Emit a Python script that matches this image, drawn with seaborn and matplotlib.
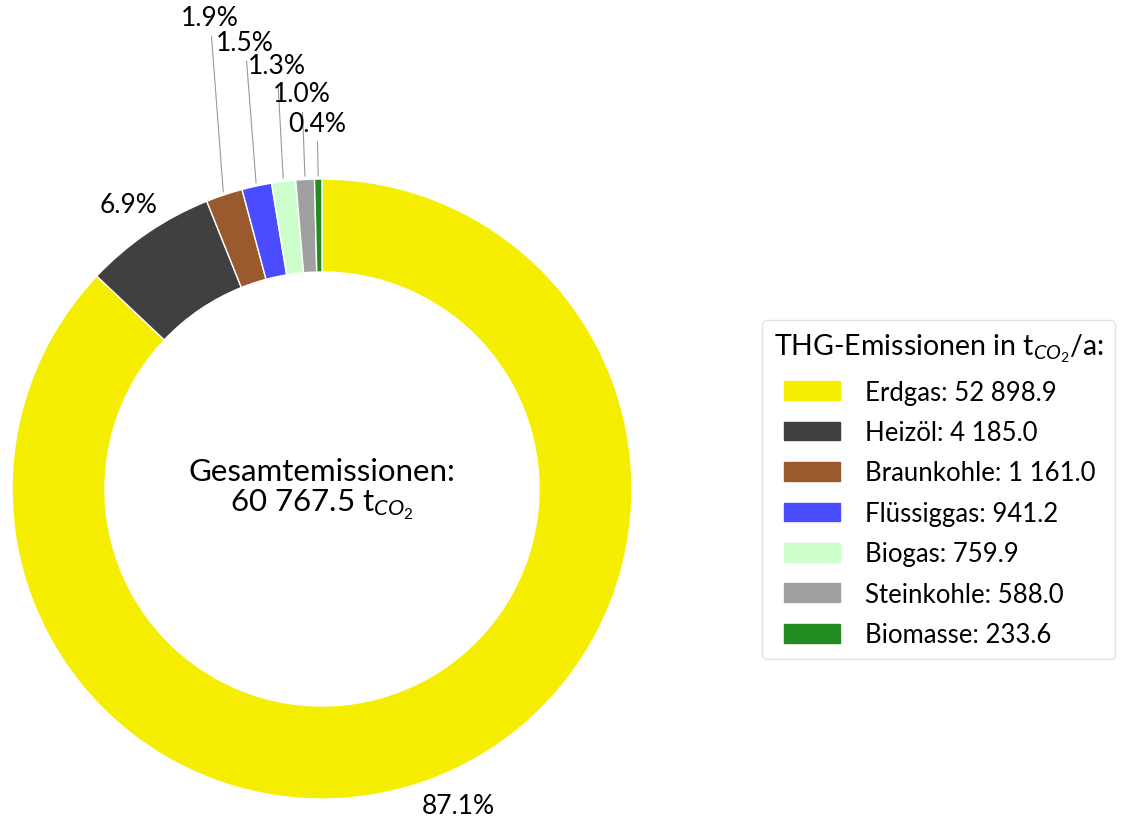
import numpy as np
import seaborn as sns
import matplotlib
matplotlib.use("Agg")
import matplotlib.pyplot as plt
from matplotlib.patches import Rectangle
from matplotlib.legend_handler import HandlerPatch

sources = ["Erdgas", "Heizöl", "Braunkohle", "Flüssiggas", "Biogas", "Steinkohle", "Biomasse"]
emissions = [52898.9, 4185.0, 1161.0, 941.2, 759.9, 588.0, 233.6]
total_emissions = 60767.5
hex_colors = ["#F5EE00", "#404040", "#9A5A2E", "#4B4BFF", "#CCFFCC", "#A0A0A0", "#228B22"]

sns.set_theme(style="white")
plt.rcParams["font.family"] = ["Lato", "DejaVu Sans"]
plt.rcParams["text.color"] = "black"
plt.rcParams["mathtext.fontset"] = "custom"
plt.rcParams["mathtext.rm"] = "Lato"
plt.rcParams["mathtext.it"] = "Lato:italic"

def fmt_num(v):
    return f"{v:,.1f}".replace(",", " ")

shares = [100 * v / total_emissions for v in emissions]
palette = sns.color_palette(hex_colors)

fig = plt.figure(figsize=(11.24, 8.2), dpi=100)
ax = fig.add_axes([12 / 1124, 20 / 820, 620 / 1124, 620 / 820])

wedges, _ = ax.pie(emissions, colors=palette, startangle=90, counterclock=False,
                   radius=1.0, wedgeprops=dict(width=0.3, edgecolor="white", linewidth=1))
ax.set_xlim(-1, 1)
ax.set_ylim(-1, 1)
ax.set_aspect("equal")
ax.axis("off")

# small slices get stacked labels with leader lines
small_xy = {2: (-0.361, 1.52), 3: (-0.248, 1.44), 4: (-0.145, 1.365), 5: (-0.065, 1.275), 6: (-0.016, 1.18)}
for i, (w, s) in enumerate(zip(wedges, shares)):
    ang = np.deg2rad((w.theta1 + w.theta2) / 2)
    label = f"{s:.1f}%"
    if i in small_xy:
        tx, ty = small_xy[i]
        ax.annotate(label, xy=(np.cos(ang) * 1.01, np.sin(ang) * 1.01), xytext=(tx, ty),
                    ha="center", va="center", fontsize=19, annotation_clip=False,
                    arrowprops=dict(arrowstyle="-", color="#999999", lw=0.8, shrinkA=2, shrinkB=0))
    else:
        ax.text(1.11 * np.cos(ang), 1.11 * np.sin(ang), label, ha="center", va="center", fontsize=19)

ax.text(0, 0, "Gesamtemissionen:\n" + fmt_num(total_emissions) + r" t$_{CO_2}$", ha="center", va="center",
        fontsize=22.5, linespacing=1.05)

# indented colour boxes, as in the original legend
def indented_box(legend, orig_handle, xdescent, ydescent, width, height, fontsize):
    return Rectangle((-xdescent + 7.2, -ydescent), width - 7.2, height)

handles = [Rectangle((0, 0), 1, 1, color=c) for c in palette]
labels = [f"{n}: {fmt_num(v)}" for n, v in zip(sources, emissions)]
leg = fig.legend(handles, labels, title=r"THG-Emissionen in t$_{CO_2}$/a:", loc="upper left",
                 bbox_to_anchor=(762 / 1124, 1 - 321 / 820), fontsize=18.5, title_fontsize=20.5,
                 handlelength=2.6, handleheight=0.75, handletextpad=0.95, labelspacing=0.6,
                 handler_map={Rectangle: HandlerPatch(patch_func=indented_box)},
                 frameon=True, edgecolor="#DDDDDD", fancybox=True, borderpad=0.45, borderaxespad=0)
leg._legend_box.align = "left"

fig.savefig("out.png", dpi=100)
